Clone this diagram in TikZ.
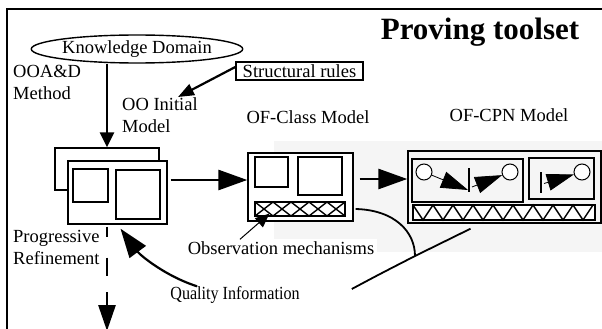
\documentclass[tikz,border=0pt]{standalone}
\usepackage{fontspec}
\setmainfont{Liberation Serif}
\newfontfamily\narrowfont[FakeStretch=0.87]{Liberation Serif}
\usetikzlibrary{shapes,arrows.meta,positioning,calc}

\begin{document}
\begin{tikzpicture}[
    x=1pt, y=-1pt,
    every node/.style={font=\fontsize{18.5}{22}\selectfont, inner sep=0pt},
    lbl/.style={align=left},
    box/.style={rectangle, draw, line width=1.4pt, fill=white},
    sub/.style={rectangle, draw, line width=1.2pt},
    arrow/.style={line width=2.8pt, -{Triangle[length=29pt,width=20pt]}},
    thinarrow/.style={line width=1pt, -{Triangle[length=14pt,width=12pt]}},
    petri/.style={line width=0.8pt, -{Triangle[length=27pt,width=17pt]}},
    place/.style={circle, draw, line width=1pt, minimum size=16pt, fill=white},
    trans/.style={line width=2.4pt},
    flow/.style={line width=1.8pt}
]

% canvas, shaded area and frame
\useasboundingbox (0,0) rectangle (602,329);
\fill[black!4] (274,141) rectangle (602,252);
\draw[line width=1.4pt] (7,329) -- (7,9) -- (602,9);

% Title
\node[font=\fontsize{31}{34}\selectfont\bfseries] (title) at (480,32) {Proving toolset};

% Inputs
\node[ellipse, draw, line width=1.4pt, minimum width=190pt, minimum height=28pt] (domain) at (137,49) {Knowledge Domain};
\node[box, minimum width=127pt, minimum height=18pt] (rules) at (299.5,71) {Structural rules};

% Labels
\node[lbl, anchor=north west] (method) at (13,65) {OOA\&D\\Method};
\node[lbl, anchor=north west] (initial) at (122,97) {OO Initial\\Model};
\node (classlbl) at (308,117) {OF-Class Model};
\node (cpnlbl) at (509,115) {OF-CPN Model};
\node[lbl, anchor=north west] (refine) at (13,230) {Progressive\\Refinement};

% OO initial model
\node[box, minimum width=104pt, minimum height=42pt] (back) at (107,169) {};
\node[box, minimum width=99pt, minimum height=63pt] (initmod) at (117.5,192.5) {};
\node[sub, minimum width=35pt, minimum height=33pt] (ismall) at (90.5,185.5) {};
\node[sub, minimum width=44pt, minimum height=49pt] (ilarge) at (138,194.5) {};

% OF-Class model
\node[box, minimum width=105pt, minimum height=68pt] (classmod) at (300.5,187) {};
\node[sub, minimum width=33pt, minimum height=30pt] (csmall) at (271.5,172) {};
\node[sub, minimum width=44pt, minimum height=38pt] (clarge) at (320,176) {};
\node[sub, minimum width=90pt, minimum height=14pt] (obsbar) at (300,209) {};
\begin{scope}
  \clip (255,202) rectangle (345,216);
  \foreach \x in {255,273,...,327}
    \draw[line width=1.4pt] (\x,202) -- ++(18,14) (\x+18,202) -- ++(-18,14);
\end{scope}
\draw[line width=1.2pt] (obsbar.north west) rectangle (obsbar.south east);

% OF-CPN model
\node[box, fill=black!4, minimum width=193pt, minimum height=72pt] (cpnmod) at (504.5,187) {};
\node[sub, minimum width=111pt, minimum height=43pt] (netleft) at (467.5,180.5) {};
\node[sub, minimum width=65pt, minimum height=41pt] (netright) at (561.5,178.5) {};
\node[sub, fill=white, minimum width=182pt, minimum height=15pt] (cpnbar) at (504,212.5) {};
\draw[line width=1.4pt] (413,205) \foreach \x in {423,443,...,583} { -- (\x,220) -- (\x+10,205) };

% Petri net fragments
\node[place] (p1) at (424,172) {};
\node[place] (p2) at (510,172) {};
\node[place] (p3) at (582,172) {};
\coordinate (t1) at (469,180);
\coordinate (t2) at (541,182.5);
\draw[trans] ($(t1)+(0,-12)$) -- ($(t1)+(0,12)$);
\draw[trans] ($(t2)+(0,-10.5)$) -- ($(t2)+(0,10.5)$);
\draw[petri] (p1) -- ($(t1)+(-1,10)$);
\draw[petri] ($(t1)+(3,7)$) -- (p2);
\draw[petri] ($(t2)+(3,1)$) -- (p3);

% Text boxes below
\node[fill=white, inner xsep=3pt, inner ysep=2pt] (obs) at (281,248) {Observation mechanisms};
\node[font=\fontsize{18.5}{22}\narrowfont] (quality) at (235,295) {Quality Information};

% Arrows
\draw[arrow, -{Triangle[length=15pt,width=14pt]}] (back.north |- domain.south) -- (back.north);
\draw[line width=2.2pt, -{Triangle[length=16pt,width=12pt]}] ([yshift=4pt]rules.west) -- (initial.north west -| 178,93);
\draw[arrow] ([xshift=3pt,yshift=12.5pt]initmod.east) -- ([yshift=12.5pt]initmod.east -| classmod.west);
\draw[arrow] ([xshift=6pt,yshift=8pt]classmod.east) -- ([yshift=8pt]classmod.east -| cpnmod.west);
\draw[thinarrow] ([xshift=-41pt]obs.north) -- ([xshift=15pt,yshift=3pt]obsbar.south west);

% Quality information feedback
\coordinate (joint) at (415,256);
\draw[flow] ([xshift=2pt]classmod.east |- obsbar.east) .. controls (395,210) and (415,232) .. (joint);
\draw[flow] ([xshift=-34pt,yshift=-5pt]cpnmod.south) -- (joint) .. controls (378,275) .. ([xshift=52pt,yshift=6pt]quality.east);
\draw[arrow, line width=2.2pt] ([xshift=-38pt]quality.north) .. controls (165,276) and (140,255) .. ([xshift=3pt,yshift=-4pt]initmod.south);

% Progressive refinement
\coordinate (dashend) at (107,280);
\coordinate (outstart) at (107,292);
\coordinate (outend) at (107,331);
\draw[line width=2.8pt, dash pattern=on 10pt off 21pt on 18pt off 20pt] ([yshift=-2pt]back.south |- initmod.south) -- (dashend);
\draw[arrow, -{Triangle[length=26pt,width=17pt]}] (outstart) -- (outend);

\end{tikzpicture}
\end{document}
